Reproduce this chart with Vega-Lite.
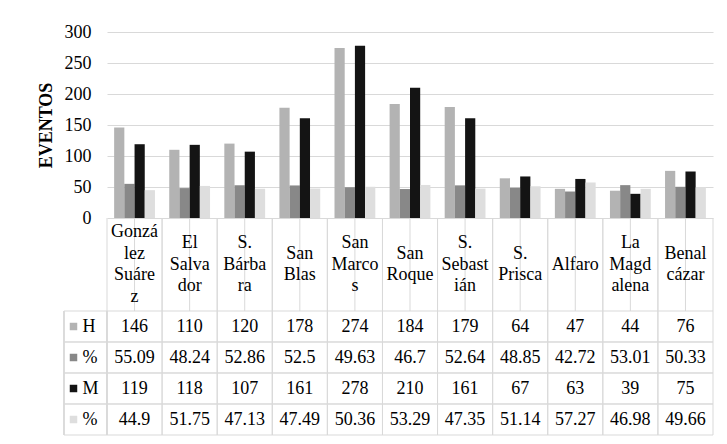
{
  "$schema": "https://vega.github.io/schema/vega-lite/v6.json",
  "padding": {"left": 37, "top": 23, "right": 0, "bottom": 0},
  "background": "white",
  "datasets": {
    "barrios": [
      {"barrio": "González Suárez", "etiqueta": "Gonzá\nlez\nSuáre\nz", "lineas": 4},
      {"barrio": "El Salvador", "etiqueta": "El\nSalva\ndor", "lineas": 3},
      {"barrio": "S. Bárbara", "etiqueta": "S.\nBárba\nra", "lineas": 3},
      {"barrio": "San Blas", "etiqueta": "San\nBlas", "lineas": 2},
      {"barrio": "San Marcos", "etiqueta": "San\nMarco\ns", "lineas": 3},
      {"barrio": "San Roque", "etiqueta": "San\nRoque", "lineas": 2},
      {"barrio": "S. Sebastián", "etiqueta": "S.\nSebast\nián", "lineas": 3},
      {"barrio": "S. Prisca", "etiqueta": "S.\nPrisca", "lineas": 2},
      {"barrio": "Alfaro", "etiqueta": "Alfaro", "lineas": 1},
      {"barrio": "La Magdalena", "etiqueta": "La\nMagd\nalena", "lineas": 3},
      {"barrio": "Benalcázar", "etiqueta": "Benal\ncázar", "lineas": 2}
    ],
    "series": [
      {"serie": "H", "etiqueta": "H"},
      {"serie": "%H", "etiqueta": "%"},
      {"serie": "M", "etiqueta": "M"},
      {"serie": "%M", "etiqueta": "%"}
    ],
    "valores": [
      {"barrio": "González Suárez", "serie": "H", "valor": 146},
      {"barrio": "González Suárez", "serie": "%H", "valor": 55.09},
      {"barrio": "González Suárez", "serie": "M", "valor": 119},
      {"barrio": "González Suárez", "serie": "%M", "valor": 44.9},
      {"barrio": "El Salvador", "serie": "H", "valor": 110},
      {"barrio": "El Salvador", "serie": "%H", "valor": 48.24},
      {"barrio": "El Salvador", "serie": "M", "valor": 118},
      {"barrio": "El Salvador", "serie": "%M", "valor": 51.75},
      {"barrio": "S. Bárbara", "serie": "H", "valor": 120},
      {"barrio": "S. Bárbara", "serie": "%H", "valor": 52.86},
      {"barrio": "S. Bárbara", "serie": "M", "valor": 107},
      {"barrio": "S. Bárbara", "serie": "%M", "valor": 47.13},
      {"barrio": "San Blas", "serie": "H", "valor": 178},
      {"barrio": "San Blas", "serie": "%H", "valor": 52.5},
      {"barrio": "San Blas", "serie": "M", "valor": 161},
      {"barrio": "San Blas", "serie": "%M", "valor": 47.49},
      {"barrio": "San Marcos", "serie": "H", "valor": 274},
      {"barrio": "San Marcos", "serie": "%H", "valor": 49.63},
      {"barrio": "San Marcos", "serie": "M", "valor": 278},
      {"barrio": "San Marcos", "serie": "%M", "valor": 50.36},
      {"barrio": "San Roque", "serie": "H", "valor": 184},
      {"barrio": "San Roque", "serie": "%H", "valor": 46.7},
      {"barrio": "San Roque", "serie": "M", "valor": 210},
      {"barrio": "San Roque", "serie": "%M", "valor": 53.29},
      {"barrio": "S. Sebastián", "serie": "H", "valor": 179},
      {"barrio": "S. Sebastián", "serie": "%H", "valor": 52.64},
      {"barrio": "S. Sebastián", "serie": "M", "valor": 161},
      {"barrio": "S. Sebastián", "serie": "%M", "valor": 47.35},
      {"barrio": "S. Prisca", "serie": "H", "valor": 64},
      {"barrio": "S. Prisca", "serie": "%H", "valor": 48.85},
      {"barrio": "S. Prisca", "serie": "M", "valor": 67},
      {"barrio": "S. Prisca", "serie": "%M", "valor": 51.14},
      {"barrio": "Alfaro", "serie": "H", "valor": 47},
      {"barrio": "Alfaro", "serie": "%H", "valor": 42.72},
      {"barrio": "Alfaro", "serie": "M", "valor": 63},
      {"barrio": "Alfaro", "serie": "%M", "valor": 57.27},
      {"barrio": "La Magdalena", "serie": "H", "valor": 44},
      {"barrio": "La Magdalena", "serie": "%H", "valor": 53.01},
      {"barrio": "La Magdalena", "serie": "M", "valor": 39},
      {"barrio": "La Magdalena", "serie": "%M", "valor": 46.98},
      {"barrio": "Benalcázar", "serie": "H", "valor": 76},
      {"barrio": "Benalcázar", "serie": "%H", "valor": 50.33},
      {"barrio": "Benalcázar", "serie": "M", "valor": 75},
      {"barrio": "Benalcázar", "serie": "%M", "valor": 49.66}
    ]
  },
  "columns": 2,
  "spacing": 0,
  "bounds": "flush",
  "concat": [
    {
      "width": 43, "height": 186,
      "data": {"values": []},
      "mark": "point",
      "encoding": {}
    },
    {
      "width": 606, "height": 186,
      "data": {"name": "valores"},
      "mark": {"type": "bar"},
      "encoding": {
        "x": {"field": "barrio", "type": "nominal", "sort": null,
          "scale": {"domain": ["González Suárez", "El Salvador", "S. Bárbara", "San Blas", "San Marcos", "San Roque", "S. Sebastián", "S. Prisca", "Alfaro", "La Magdalena", "Benalcázar"], "paddingInner": 0, "paddingOuter": 0},
          "axis": null},
        "xOffset": {"field": "serie", "type": "nominal", "sort": null,
          "scale": {"domain": ["H", "%H", "M", "%M"], "paddingInner": 0, "paddingOuter": 0.7}},
        "y": {"field": "valor", "type": "quantitative",
          "scale": {"domain": [0, 300], "nice": false},
          "axis": {"values": [0, 50, 100, 150, 200, 250, 300], "title": "EVENTOS", "grid": true, "domain": false, "ticks": false,
            "labelFont": "Liberation Serif", "titleFont": "Liberation Serif",
            "labelFontSize": 18, "labelPadding": 16, "labelColor": "#000000",
            "titleFontSize": 18, "titleFontWeight": "bold", "titleColor": "#000000", "titlePadding": 9,
            "gridColor": "#d9d9d9", "gridWidth": 1}},
        "color": {"field": "serie", "type": "nominal",
          "scale": {"domain": ["H", "%H", "M", "%M"], "range": ["#b3b3b3", "#888888", "#141414", "#dedede"]},
          "legend": null}
      }
    },
    {
      "width": 43, "height": 93,
      "data": {"values": []},
      "mark": "point",
      "encoding": {}
    },
    {
      "width": 606, "height": 93,
      "data": {"name": "barrios"},
      "encoding": {
        "x": {"field": "barrio", "type": "nominal", "sort": null,
          "scale": {"domain": ["González Suárez", "El Salvador", "S. Bárbara", "San Blas", "San Marcos", "San Roque", "S. Sebastián", "S. Prisca", "Alfaro", "La Magdalena", "Benalcázar"], "paddingInner": 0, "paddingOuter": 0},
          "axis": null}
      },
      "layer": [
        {"mark": {"type": "rule", "color": "#d9d9d9", "strokeWidth": 1}, "encoding": {"x": {"field": "barrio", "type": "nominal", "sort": null, "bandPosition": 0}}},
        {"mark": {"type": "rule", "color": "#d9d9d9", "strokeWidth": 1}, "encoding": {"x": {"field": "barrio", "type": "nominal", "sort": null, "bandPosition": 1}}},
        {"mark": {"type": "rule", "color": "#d9d9d9", "strokeWidth": 1}, "encoding": {"y": {"datum": 0, "type": "quantitative", "scale": {"domain": [0, 1]}, "axis": null}}},
        {"mark": {"type": "rule", "color": "#d9d9d9", "strokeWidth": 1}, "encoding": {"y": {"datum": 1, "type": "quantitative"}}},
        {"transform": [{"filter": "datum.lineas == 1"}],
          "mark": {"type": "text", "lineBreak": "\n", "font": "Liberation Serif", "fontSize": 18, "lineHeight": 21.5, "baseline": "middle", "color": "#000000", "dy": 0},
          "encoding": {"text": {"field": "etiqueta", "type": "nominal"}}},
        {"transform": [{"filter": "datum.lineas == 2"}],
          "mark": {"type": "text", "lineBreak": "\n", "font": "Liberation Serif", "fontSize": 18, "lineHeight": 21.5, "baseline": "middle", "color": "#000000", "dy": -10.75},
          "encoding": {"text": {"field": "etiqueta", "type": "nominal"}}},
        {"transform": [{"filter": "datum.lineas == 3"}],
          "mark": {"type": "text", "lineBreak": "\n", "font": "Liberation Serif", "fontSize": 18, "lineHeight": 21.5, "baseline": "middle", "color": "#000000", "dy": -21.5},
          "encoding": {"text": {"field": "etiqueta", "type": "nominal"}}},
        {"transform": [{"filter": "datum.lineas == 4"}],
          "mark": {"type": "text", "lineBreak": "\n", "font": "Liberation Serif", "fontSize": 18, "lineHeight": 21.5, "baseline": "middle", "color": "#000000", "dy": -32.25},
          "encoding": {"text": {"field": "etiqueta", "type": "nominal"}}}
      ]
    },
    {
      "width": 43, "height": 124,
      "data": {"name": "series"},
      "encoding": {
        "y": {"field": "serie", "type": "nominal", "sort": null,
          "scale": {"domain": ["H", "%H", "M", "%M"], "paddingInner": 0, "paddingOuter": 0},
          "axis": null}
      },
      "layer": [
        {"mark": {"type": "rule", "color": "#d9d9d9", "strokeWidth": 1}, "encoding": {"y": {"field": "serie", "type": "nominal", "sort": null, "bandPosition": 0}}},
        {"mark": {"type": "rule", "color": "#d9d9d9", "strokeWidth": 1}, "encoding": {"y": {"field": "serie", "type": "nominal", "sort": null, "bandPosition": 1}}},
        {"mark": {"type": "rule", "color": "#d9d9d9", "strokeWidth": 1}, "encoding": {"y": null, "x": {"datum": 0, "type": "quantitative", "scale": {"domain": [0, 1]}, "axis": null}}},
        {"mark": {"type": "rule", "color": "#d9d9d9", "strokeWidth": 1}, "encoding": {"y": null, "x": {"datum": 1, "type": "quantitative"}}},
        {
          "mark": {"type": "point", "shape": "square", "filled": true, "size": 56, "opacity": 1, "xOffset": -12},
          "encoding": {
            "color": {"field": "serie", "type": "nominal",
              "scale": {"domain": ["H", "%H", "M", "%M"], "range": ["#b3b3b3", "#888888", "#141414", "#dedede"]},
              "legend": null}
          }
        },
        {
          "mark": {"type": "text", "align": "left", "dx": -3, "font": "Liberation Serif", "fontSize": 18, "baseline": "middle", "color": "#000000"},
          "encoding": {"text": {"field": "etiqueta", "type": "nominal"}}
        }
      ]
    },
    {
      "width": 606, "height": 124,
      "data": {"name": "valores"},
      "encoding": {
        "x": {"field": "barrio", "type": "nominal", "sort": null,
          "scale": {"domain": ["González Suárez", "El Salvador", "S. Bárbara", "San Blas", "San Marcos", "San Roque", "S. Sebastián", "S. Prisca", "Alfaro", "La Magdalena", "Benalcázar"], "paddingInner": 0, "paddingOuter": 0},
          "axis": null},
        "y": {"field": "serie", "type": "nominal", "sort": null,
          "scale": {"domain": ["H", "%H", "M", "%M"], "paddingInner": 0, "paddingOuter": 0},
          "axis": null}
      },
      "layer": [
        {"data": {"name": "barrios"}, "mark": {"type": "rule", "color": "#d9d9d9", "strokeWidth": 1}, "encoding": {"y": null, "x": {"field": "barrio", "type": "nominal", "sort": null, "bandPosition": 0}}},
        {"data": {"name": "barrios"}, "mark": {"type": "rule", "color": "#d9d9d9", "strokeWidth": 1}, "encoding": {"y": null, "x": {"field": "barrio", "type": "nominal", "sort": null, "bandPosition": 1}}},
        {"data": {"name": "series"}, "mark": {"type": "rule", "color": "#d9d9d9", "strokeWidth": 1}, "encoding": {"x": null, "y": {"field": "serie", "type": "nominal", "sort": null, "bandPosition": 0}}},
        {"data": {"name": "series"}, "mark": {"type": "rule", "color": "#d9d9d9", "strokeWidth": 1}, "encoding": {"x": null, "y": {"field": "serie", "type": "nominal", "sort": null, "bandPosition": 1}}},
        {
          "mark": {"type": "text", "font": "Liberation Serif", "fontSize": 18, "baseline": "middle", "color": "#000000"},
          "encoding": {"text": {"field": "valor", "type": "nominal"}}
        }
      ]
    }
  ],
  "resolve": {"scale": {"x": "independent", "y": "independent"}},
  "config": {
    "font": "Liberation Serif",
    "view": {"stroke": null}
  }
}
